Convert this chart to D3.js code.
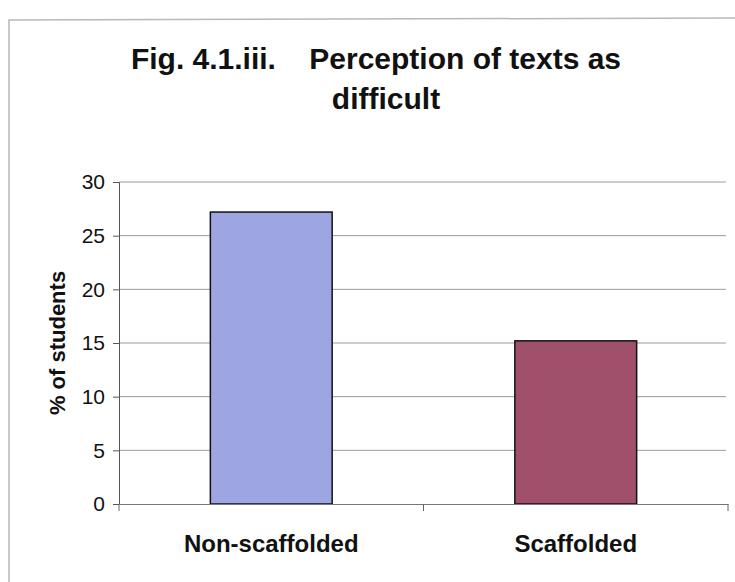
<!DOCTYPE html>
<html>
<head>
<meta charset="utf-8">
<script src="https://cdn.jsdelivr.net/npm/d3@7"></script>
<style>
  html, body { margin: 0; padding: 0; background: #fff; }
  svg { display: block; }
</style>
</head>
<body>
<svg id="chart" width="735" height="582"></svg>
<script>
// Chart data
const categories = ["Non-scaffolded", "Scaffolded"];
const values = [27.2, 15.2];
const barColors = ["#9da5e3", "#a0506a"];
const yTicks = [0, 5, 10, 15, 20, 25, 30];
const titleLines = ["Fig. 4.1.iii.    Perception of texts as", "difficult"];
const yLabel = "% of students";

const svg = d3.select("#chart");
const font = "'Liberation Sans', Arial, sans-serif";

// Outer frame (top and left edges)
svg.append("path")
  .attr("d", "M9,582 L9,20 L735,18")
  .attr("fill", "none")
  .attr("stroke", "#b8b8b8")
  .attr("stroke-width", 1.5);

const plot = { left: 119, right: 728, top: 182, bottom: 504 };

const x = d3.scaleBand()
  .domain(categories)
  .range([plot.left, plot.right]);
const barW = x.bandwidth() * 0.4;

const y = d3.scaleLinear()
  .domain([0, 30])
  .range([plot.bottom, plot.top]);

// Gridlines
svg.append("g")
  .selectAll("line")
  .data(yTicks.filter(d => d > 0))
  .join("line")
  .attr("x1", plot.left)
  .attr("x2", 726)
  .attr("y1", d => y(d))
  .attr("y2", d => y(d))
  .attr("stroke", "#9a9a9a")
  .attr("stroke-width", 1);

// Y axis
const yAxis = svg.append("g")
  .attr("transform", `translate(${plot.left},0)`)
  .call(d3.axisLeft(y).tickValues(yTicks).tickSize(6).tickPadding(8));
yAxis.select(".domain").attr("stroke", "#555");
yAxis.selectAll(".tick line").attr("stroke", "#555");
yAxis.selectAll(".tick text")
  .attr("font-family", font)
  .attr("font-size", 21)
  .attr("fill", "#111");

// Bars
svg.append("g")
  .selectAll("rect")
  .data(categories)
  .join("rect")
  .attr("x", d => x(d) + (x.bandwidth() - barW) / 2)
  .attr("y", (d, i) => y(values[i]))
  .attr("width", barW)
  .attr("height", (d, i) => y(0) - y(values[i]))
  .attr("fill", (d, i) => barColors[i])
  .attr("stroke", "#111")
  .attr("stroke-width", 1.5);

// X axis
const xAxis = svg.append("g")
  .attr("transform", `translate(0,${plot.bottom})`)
  .call(d3.axisBottom(x).tickSize(0).tickPadding(31));
xAxis.select(".domain").attr("stroke", "#777");
xAxis.selectAll(".tick text")
  .attr("font-family", font)
  .attr("font-size", 24)
  .attr("font-weight", "bold")
  .attr("fill", "#111");

// Category separator ticks
const sepX = [plot.left, plot.left + x.bandwidth(), plot.right];
svg.append("g")
  .selectAll("line")
  .data(sepX)
  .join("line")
  .attr("x1", d => d)
  .attr("x2", d => d)
  .attr("y1", plot.bottom)
  .attr("y2", plot.bottom + 7)
  .attr("stroke", "#666");

// Y axis title
svg.append("text")
  .attr("transform", `translate(65,343) rotate(-90)`)
  .attr("text-anchor", "middle")
  .attr("font-family", font)
  .attr("font-size", 22)
  .attr("font-weight", "bold")
  .attr("fill", "#111")
  .text(yLabel);

// Chart title
svg.append("g")
  .selectAll("text")
  .data(titleLines)
  .join("text")
  .attr("x", (d, i) => 376 + i * 10)
  .attr("y", (d, i) => 69 + i * 40)
  .attr("text-anchor", "middle")
  .attr("font-family", font)
  .attr("font-size", 30)
  .attr("font-weight", "bold")
  .attr("fill", "#111")
  .style("white-space", "pre")
  .text(d => d);
</script>
</body>
</html>
